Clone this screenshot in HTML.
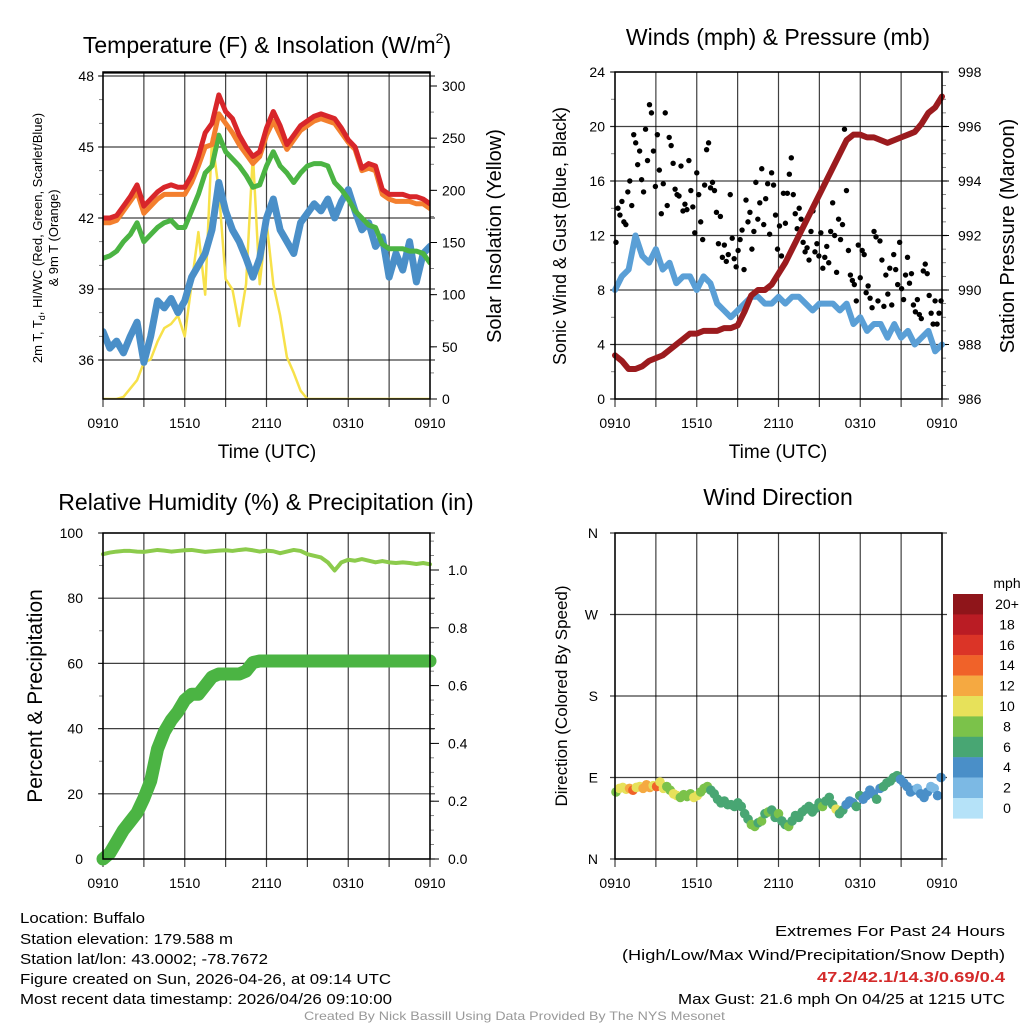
<!DOCTYPE html>
<html><head><meta charset="utf-8">
<style>
html,body{margin:0;padding:0;background:#fff;}
svg{display:block;font-family:"Liberation Sans",Arial,sans-serif;}
</style></head>
<body>
<svg id="chart" width="1024" height="1024" viewBox="0 0 1024 1024" xmlns="http://www.w3.org/2000/svg">
<rect width="1024" height="1024" fill="#fff"/>
<g id="layer"></g>
<g font-size="15" fill="#000">
<text x="20" y="923" textLength="125" lengthAdjust="spacingAndGlyphs">Location: Buffalo</text>
<text x="20" y="944" textLength="213" lengthAdjust="spacingAndGlyphs">Station elevation: 179.588 m</text>
<text x="20" y="964" textLength="248" lengthAdjust="spacingAndGlyphs">Station lat/lon: 43.0002; -78.7672</text>
<text x="20" y="984" textLength="371" lengthAdjust="spacingAndGlyphs">Figure created on Sun, 2026-04-26, at 09:14 UTC</text>
<text x="20" y="1004" textLength="372" lengthAdjust="spacingAndGlyphs">Most recent data timestamp: 2026/04/26 09:10:00</text>
<text x="775" y="936" textLength="230" lengthAdjust="spacingAndGlyphs">Extremes For Past 24 Hours</text>
<text x="622" y="960" textLength="383" lengthAdjust="spacingAndGlyphs">(High/Low/Max Wind/Precipitation/Snow Depth)</text>
<text x="817" y="982" textLength="188" lengthAdjust="spacingAndGlyphs" fill="#d42a2a" font-weight="bold">47.2/42.1/14.3/0.69/0.4</text>
<text x="678" y="1004" textLength="327" lengthAdjust="spacingAndGlyphs">Max Gust: 21.6 mph On 04/25 at 1215 UTC</text>
<text x="304" y="1020" textLength="421" lengthAdjust="spacingAndGlyphs" font-size="12" fill="#999">Created By Nick Bassill Using Data Provided By The NYS Mesonet</text>
</g>
</svg>
<script>
// ---------- DATA (30-min steps, 0910 -> 0910) ----------
var timeLabels = ["0910","1510","2110","0310","0910"];
var tempRed = [42.0,42.0,42.1,42.5,42.9,43.4,42.5,42.8,43.1,43.3,43.4,43.3,43.3,43.8,44.6,45.6,46.0,47.2,46.5,46.2,45.5,45.0,44.6,44.8,45.8,46.5,45.9,45.1,45.5,45.9,46.1,46.3,46.4,46.3,46.2,45.8,45.3,45.0,44.1,44.3,44.2,43.2,43.0,43.0,43.0,42.9,42.9,42.8,42.6];
var tempOrange = [41.8,41.8,41.9,42.3,42.7,43.1,42.2,42.5,42.8,43.0,43.0,43.0,43.0,43.5,44.2,45.0,45.1,46.4,46.0,45.6,45.1,44.7,44.3,44.6,45.5,46.1,45.5,44.9,45.3,45.7,45.9,46.1,46.2,46.1,46.0,45.6,45.2,44.9,44.0,44.1,44.0,43.0,42.8,42.7,42.7,42.7,42.6,42.6,42.4];
var dewGreen = [40.3,40.4,40.6,41.0,41.3,41.8,41.0,41.3,41.6,41.8,41.9,41.6,41.6,42.3,43.0,43.9,44.2,45.5,44.8,44.5,44.2,43.8,43.3,43.4,44.2,44.8,44.2,43.9,43.5,43.9,44.2,44.3,44.3,44.2,43.5,43.2,42.8,42.3,42.0,41.7,41.6,40.9,40.7,40.7,40.7,40.6,40.6,40.5,40.1];
var wcBlue = [37.2,36.5,36.8,36.3,37.0,37.6,35.9,37.0,38.5,38.2,38.6,38.0,38.5,39.5,40.0,40.5,41.5,43.5,42.3,41.5,41.0,40.3,39.5,40.3,42.0,42.8,41.5,41.0,40.5,41.8,42.2,42.6,42.3,42.8,42.0,42.7,43.2,42.3,41.5,41.8,40.8,41.2,39.5,40.5,39.8,41.0,39.3,40.5,40.8];
var insolation = [0,0,0,2,10,18,35,38,55,68,72,80,60,110,160,100,250,200,115,105,70,110,235,110,170,110,80,40,25,8,0,0,0,0,0,0,0,0,0,0,0,0,0,0,0,0,0,0,0];
var tempTicks = [36,39,42,45,48];
var insoTicks = [0,50,100,150,200,250,300];

var windSpeed = [8,9,9.5,12,10.5,10,11,9.5,10,8.5,9,9,8,9,8.5,7,6.5,6,6.5,7,7.5,7.5,7,7,7.5,7,7.5,7.5,7,6.5,7,7,7,6.5,7,5.5,6,5,5.5,5.5,4.5,5.5,4.5,5,4,4.5,5,3.5,4];
var pressure = [987.6,987.4,987.1,987.1,987.2,987.4,987.5,987.6,987.8,988.0,988.2,988.4,988.4,988.5,988.5,988.5,988.6,988.6,988.7,989.2,989.8,990.0,990.0,990.2,990.6,991.0,991.5,992.0,992.5,993.0,993.5,994.0,994.5,995.0,995.5,995.7,995.7,995.6,995.6,995.5,995.4,995.5,995.6,995.7,995.8,996.1,996.5,996.7,997.1];
var gusts = [11.5,14,13.5,14.5,13,12.8,15.2,16,14.2,19.4,18.8,17.2,18.2,16.1,15.2,19.8,17.5,21.6,21,18.2,15.6,19.4,16.8,13.6,15.8,21,14.2,19.2,18.6,17.3,15.4,15,14.9,17.1,13.8,14.3,13.9,17.5,15.3,14.1,12.2,16.6,15,13,11.7,15.7,18.3,18.8,15.5,15.9,15.3,13.7,11.4,13.4,10.4,11.3,10.1,10.6,15,11.8,10.3,9.7,10.9,11.7,12.4,9.5,14.6,13,13.7,11,12.3,15.9,13.2,14.4,16.9,12.8,14.7,15.8,12.1,16.6,15.7,13.5,11,12.7,10.5,15.1,12.9,15.1,16.5,17.7,15,13.6,12.5,14,13.2,11.5,10.8,11.1,10.2,12.3,13.8,10.8,11.4,10.5,12.2,9.6,10.4,11.2,10,12.3,14.4,12,9.3,13.2,11.7,12.8,19.8,15.3,10.9,9.1,8.7,8.4,7.2,11.3,8.9,10.9,10.6,7.8,8.3,7.4,6.7,12.3,11.9,7.2,11.6,10.2,6.8,9.1,7.7,9.6,6.9,10.6,9.5,8.4,11.5,8.1,7.3,9.1,10.4,8.5,9.2,6.9,6.4,7.3,6.2,5.9,9.4,9.9,9.2,7.6,6.3,5.5,7.2,5.5,6.3,7.2];
var windTicks = [0,4,8,12,16,20,24];
var pressTicks = [986,988,990,992,994,996,998];

var rh = [93.5,94,94.3,94.5,94.5,94.3,94.2,94.5,94.8,94.6,94.3,94.5,94.7,94.8,94.5,94.2,94.4,94.6,94.7,94.5,94.8,95,94.7,94.3,94.6,94.4,93.8,94.3,94.8,94.5,93.5,93,92.5,91,88.5,91,91.8,91.5,92,91.5,91,91.4,91,90.8,91,90.8,90.5,90.8,90.4];
var precip = [0,0.02,0.06,0.10,0.13,0.16,0.21,0.27,0.38,0.44,0.48,0.51,0.55,0.57,0.57,0.60,0.63,0.64,0.64,0.64,0.64,0.65,0.68,0.685,0.685,0.685,0.685,0.685,0.685,0.685,0.685,0.685,0.685,0.685,0.685,0.685,0.685,0.685,0.685,0.685,0.685,0.685,0.685,0.685,0.685,0.685,0.685,0.685,0.685];
var rhTicks = [0,20,40,60,80,100];
var precipTicks = ["0.0","0.2","0.4","0.6","0.8","1.0"];

var windDir = [74,78,79,77,78,76,79,80,78,82,79,81,80,85,78,80,76,72,70,68,71,69,72,68,70,74,78,80,76,72,66,62,64,60,60,58,62,58,50,44,38,36,40,42,50,52,54,46,50,42,38,36,42,48,46,52,55,58,52,56,62,58,64,68,60,55,50,54,60,64,62,58,70,66,70,76,72,66,78,80,84,86,90,92,88,84,80,74,76,78,72,68,74,80,78,70,90];
var dirSpeed = [9,10,11,10,12,15,11,10,12,12,13,11,14,10,10,9,9,10,10,9,9,8,9,10,10,9,8,8,7,7,6,6,7,6,6,6,7,6,7,7,8,8,7,8,7,8,7,7,8,7,7,8,7,7,6,7,7,7,6,7,7,8,6,6,7,10,6,6,5,5,4,6,6,5,4,4,5,6,5,6,6,7,6,7,5,4,4,5,4,3,4,5,4,3,3,4,4];
var dirTicks = ["N","E","S","W","N"];
var speedBins = ["0","2","4","6","8","10","12","14","16","18","20+"];
var speedColors = ["#b5e2f8","#7cb9e4","#4a8fc8","#48a673","#7bc24a","#e7e15a","#f5a941","#f06229","#db3427","#ba1c24","#8f151a"];

// ---------- helpers ----------
var NS="http://www.w3.org/2000/svg", layer=document.getElementById('layer');
function mk(tag, attrs, parent){var e=document.createElementNS(NS,tag);for(var k in attrs)e.setAttribute(k,attrs[k]);(parent||layer).appendChild(e);return e;}
function lin(d0,d1,r0,r1){return function(v){return r0+(v-d0)/(d1-d0)*(r1-r0);};}

function panel(cfg){
  var g=mk('g',{});
  
  
  var x0=cfg.x0,x1=cfg.x1,y0=cfg.y0,y1=cfg.y1;
  for(var h=0;h<=8;h++){
    var gx=x0+(x1-x0)*h/8;
    var l=mk('line',{x1:gx,x2:gx,y1:y0,y2:y1+8,stroke:'#000','stroke-width':1.2,'stroke-opacity':0.75},g);
    
    
  }
  cfg.hgrid.forEach(function(gy){
    var l=mk('line',{x1:x0-5,x2:x1+5,y1:gy,y2:gy,stroke:'#000','stroke-width':1.2,'stroke-opacity':0.75},g);
    
    
  });
  timeLabels.forEach(function(t,k){
    var tx=mk('text',{x:x0+(x1-x0)*k/4,y:y1+29,'font-size':14,'text-anchor':'middle'},g);
    tx.textContent=t;
    
    
  });
  return g;
}
function frame(g,x0,x1,y0,y1){
  var r=mk('rect',{x:x0,y:y0,width:x1-x0,height:y1-y0,fill:'none',stroke:'#000','stroke-width':1.5},g);
  
  
}
function txt(g,str,attrs,name){var t=mk('text',attrs,g);t.textContent=str;return t;}
function path(g,xs,ys,vals,attrs,name,xfn){
  var d='';vals.forEach(function(v,i){d+=(i?'L':'M')+xfn(i).toFixed(2)+','+ys(v).toFixed(2);});
  attrs.d=d;attrs.fill='none';attrs['stroke-linejoin']='round';attrs['stroke-linecap']='round';
  var p=mk('path',attrs,g);return p;
}
function minorTicks(g,x,y0,y1,n,dir){
  for(var k=0;k<=n;k++){var yy=y0+(y1-y0)*k/n;var l=mk('line',{x1:x,x2:x+dir*4,y1:yy,y2:yy,stroke:'#000','stroke-width':0.8,'stroke-opacity':0.6},g);}
}

// ---------- Panel 1: Temperature ----------
(function(){
  var x0=103,x1=430,y0=72,y1=399;
  var ty=lin(36,48,360,76), iy=lin(0,300,399,86);
  var xi=lin(0,48,x0,x1);
  var g=panel({name:'temperature-panel',x0:x0,x1:x1,y0:y0,y1:y1,hgrid:tempTicks.map(ty)});
  mk('line',{x1:x0,x2:x1,y1:y0+1,y2:y0+1,stroke:'#000','stroke-width':1.2},g);
  minorTicks(g,x1,iy(0),iy(300),12,1);
  minorTicks(g,x0,ty(36),ty(48),12,-1);
  tempTicks.forEach(function(v){txt(g,v,{x:x0-9,y:ty(v)+5,'font-size':14,'text-anchor':'end'},'temp-tick-label');});
  insoTicks.forEach(function(v){var l=mk('line',{x1:x1,x2:x1+7,y1:iy(v),y2:iy(v),stroke:'#000'},g);
    txt(g,v,{x:x1+12,y:iy(v)+5,'font-size':14},'insolation-tick-label');});
  var cp=mk('clipPath',{id:'c1'},g);mk('rect',{x:x0,y:y0-8,width:x1-x0,height:y1-y0+8},cp);
  var pg=mk('g',{'clip-path':'url(#c1)'},g);
  path(pg,null,iy,insolation,{stroke:'#f7e14a','stroke-width':2.5},'insolation-line',xi);
  path(pg,null,ty,wcBlue,{stroke:'#4a8fc8','stroke-width':7},'windchill-line',xi);
  path(pg,null,ty,dewGreen,{stroke:'#4bb443','stroke-width':5},'dewpoint-line',xi);
  path(pg,null,ty,tempOrange,{stroke:'#f37f2e','stroke-width':5},'temp-9m-line',xi);
  path(pg,null,ty,tempRed,{stroke:'#d8262a','stroke-width':5},'temp-2m-line',xi);
  frame(g,x0,x1,y0,y1);
  var t=txt(g,'',{x:267,y:53,'font-size':23,'text-anchor':'middle'},'temperature-title');
  t.innerHTML='Temperature (F) &amp; Insolation (W/m<tspan font-size="14" dy="-10">2</tspan><tspan dy="10">)</tspan>';
  var a=txt(g,'',{transform:'translate(42,238) rotate(-90)','font-size':13,'text-anchor':'middle'},'temp-y-axis-title');
  a.innerHTML='2m T, T<tspan font-size="9" dy="3">d</tspan><tspan dy="-3">, HI/WC (Red, Green, Scarlet/Blue)</tspan>';
  txt(g,'& 9m T (Orange)',{transform:'translate(58,238) rotate(-90)','font-size':13,'text-anchor':'middle'},'temp-y-axis-title-2');
  txt(g,'Solar Insolation (Yellow)',{transform:'translate(501,236) rotate(-90)','font-size':20,'text-anchor':'middle'},'insolation-axis-title');
  txt(g,'Time (UTC)',{x:267,y:458,'font-size':19,'text-anchor':'middle'},'x-axis-title');
})();

// ---------- Panel 2: Winds ----------
(function(){
  var x0=615,x1=942,y0=72,y1=399;
  var wy=lin(0,24,y1,y0), py=lin(986,998,y1,y0);
  var xi=lin(0,48,x0,x1), xg=lin(0,gusts.length-1,x0+1,x1-1);
  var g=panel({name:'winds-panel',x0:x0,x1:x1,y0:y0,y1:y1,hgrid:windTicks.map(wy)});
  minorTicks(g,x1,py(986),py(998),24,1);
  minorTicks(g,x0,wy(0),wy(24),12,-1);
  windTicks.forEach(function(v){txt(g,v,{x:x0-10,y:wy(v)+5,'font-size':14,'text-anchor':'end'},'wind-tick-label');});
  pressTicks.forEach(function(v){var l=mk('line',{x1:x1,x2:x1+7,y1:py(v),y2:py(v),stroke:'#000'},g);
    txt(g,v,{x:x1+16,y:py(v)+5,'font-size':14},'pressure-tick-label');});
  path(g,null,wy,windSpeed,{stroke:'#5a9fd6','stroke-width':6},'sonic-wind-line',xi);
  gusts.forEach(function(v,i){var c=mk('circle',{cx:xg(i),cy:wy(v),r:2.7,fill:'#000'},g);
    
    });
  path(g,null,py,pressure,{stroke:'#9b1b1e','stroke-width':6},'pressure-line',xi);
  frame(g,x0,x1,y0,y1);
  txt(g,'Winds (mph) & Pressure (mb)',{x:778,y:45,'font-size':23,'text-anchor':'middle'},'winds-title');
  txt(g,'Sonic Wind & Gust (Blue, Black)',{transform:'translate(566,236) rotate(-90)','font-size':18,'text-anchor':'middle'},'wind-axis-title');
  txt(g,'Station Pressure (Maroon)',{transform:'translate(1014,236) rotate(-90)','font-size':20,'text-anchor':'middle'},'pressure-axis-title');
  txt(g,'Time (UTC)',{x:778,y:458,'font-size':19,'text-anchor':'middle'},'x-axis-title');
})();

// ---------- Panel 3: RH & Precip ----------
(function(){
  var x0=103,x1=430,y0=533,y1=859;
  var ry=lin(0,100,y1,y0), py=lin(0,1,y1,570);
  var xi=lin(0,48,x0,x1);
  var g=panel({name:'humidity-panel',x0:x0,x1:x1,y0:y0,y1:y1,hgrid:rhTicks.map(ry)});
  minorTicks(g,x0,ry(0),ry(100),10,-1);
  minorTicks(g,x1,py(0),py(1.1),22,1);
  rhTicks.forEach(function(v){txt(g,v,{x:x0-20,y:ry(v)+5,'font-size':14,'text-anchor':'end'},'rh-tick-label');});
  precipTicks.forEach(function(v){var yy=py(parseFloat(v));var l=mk('line',{x1:x1,x2:x1+9,y1:yy,y2:yy,stroke:'#000'},g);
    txt(g,v,{x:x1+18,y:yy+5,'font-size':14},'precip-tick-label');});
  path(g,null,ry,rh,{stroke:'#8ccb4c','stroke-width':4},'rh-line',xi);
  path(g,null,py,precip,{stroke:'#4bb443','stroke-width':13},'precip-line',xi);
  frame(g,x0,x1,y0,y1);
  txt(g,'Relative Humidity (%) & Precipitation (in)',{x:266,y:510,'font-size':23,'text-anchor':'middle'},'humidity-title');
  txt(g,'Percent & Precipitation',{transform:'translate(42,696) rotate(-90)','font-size':21,'text-anchor':'middle'},'rh-axis-title');
})();

// ---------- Panel 4: Wind Direction ----------
(function(){
  var x0=615,x1=942,y0=533,y1=859;
  var dy=lin(0,360,y1,y0), xd=lin(0,windDir.length-1,x0+1,x1-1);
  var g=panel({name:'wind-direction-panel',x0:x0,x1:x1,y0:y0,y1:y1,hgrid:[0,90,180,270,360].map(dy)});
  dirTicks.forEach(function(v,k){txt(g,v,{x:x0-17,y:dy(k*90)+5,'font-size':14,'text-anchor':'end'},'direction-tick-label');});
  windDir.forEach(function(v,i){
    var b=Math.min(10,Math.floor(dirSpeed[i]/2));
    var c=mk('circle',{cx:xd(i),cy:dy(v),r:4.8,fill:speedColors[b]},g);
    
    
  });
  frame(g,x0,x1,y0,y1);
  txt(g,'Wind Direction',{x:778,y:505,'font-size':23,'text-anchor':'middle'},'direction-title');
  txt(g,'Direction (Colored By Speed)',{transform:'translate(567,696) rotate(-90)','font-size':17,'text-anchor':'middle'},'direction-axis-title');
  var lg=mk('g',{},g);
  
  
  txt(lg,'mph',{x:1007,y:588,'font-size':14,'text-anchor':'middle'},'legend-title');
  var n=speedBins.length;
  for(var k=0;k<n;k++){
    var idx=n-1-k, yy=594+k*20.4;
    var r=mk('rect',{x:953,y:yy,width:30,height:20.6,fill:speedColors[idx]},lg);
    
    
    txt(lg,speedBins[idx],{x:1007,y:yy+15,'font-size':14,'text-anchor':'middle'},'legend-label');
  }
})();
</script>
</body></html>
